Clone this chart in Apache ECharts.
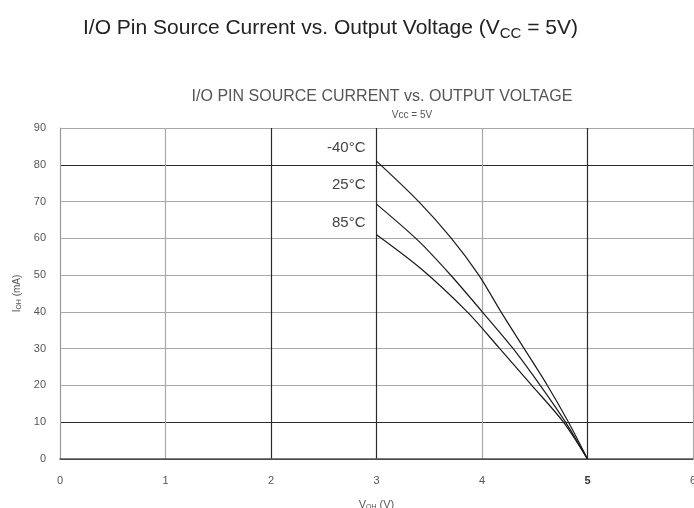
<!DOCTYPE html>
<html><head><meta charset="utf-8">
<script src="https://cdn.jsdelivr.net/npm/echarts@6/dist/echarts.min.js"></script>
<style>html,body{margin:0;padding:0;background:#fff;overflow:hidden}#c{width:694px;height:508px}</style>
</head><body><div id="c"></div>
<script>
// Data
const vM40 = [3.0, 3.40, 3.71, 3.97, 4.18, 4.40, 4.62, 4.82, 5.0];
const iM40 = [81.0, 70.0, 60.0, 50.0, 40.0, 30.0, 20.0, 10.0, 0];
const v25 = [3.0, 3.39, 3.70, 4.0, 4.29, 4.55, 4.79, 5.0];
const i25 = [69.3, 59.5, 50.1, 40.1, 30.2, 20.1, 10.1, 0];
const v85 = [3.0, 3.42, 3.86, 4.16, 4.47, 4.77, 5.0];
const i85 = [61.0, 51.8, 40.0, 30.3, 20.1, 10.1, 0];
const seriesNames = ['-40°C', '25°C', '85°C'];
const labelAnchors = [[3, 84.5], [3, 74.5], [3, 64.2]];
const xTicks = ['0', '1', '2', '3', '4', '5', '6'];

const pairs = (xs, ys) => xs.map((x, i) => [x, ys[i]]);
const allSeries = [[vM40, iM40], [v25, i25], [v85, i85]];

const chart = echarts.init(document.getElementById('c'), null, {renderer: 'canvas'});
const DARK = '#2a2a2a', GRAY = '#a8a8a8';
chart.setOption({
  animation: false,
  backgroundColor: '#fff',
  title: [
    {text: 'I/O Pin Source Current vs. Output Voltage (V{s|CC} = 5V)', left: 78, top: 11,
     textStyle: {fontFamily: 'Liberation Sans', fontSize: 21, fontWeight: 'normal', color: '#222',
       rich: {s: {fontFamily: 'Liberation Sans', fontSize: 15, color: '#222', verticalAlign: 'bottom', padding: [10, 0, 0, 0]}}}},
    {text: 'I/O PIN SOURCE CURRENT vs. OUTPUT VOLTAGE', left: 377, textAlign: 'center', top: 84,
     textStyle: {fontFamily: 'Liberation Sans', fontSize: 16, fontWeight: 'normal', color: '#555'}},
    {text: 'Vcc = 5V', left: 407, textAlign: 'center', top: 105,
     textStyle: {fontFamily: 'Liberation Sans', fontSize: 10, fontWeight: 'normal', color: '#555'}}
  ],
  grid: {left: 60, right: 1, top: 128, bottom: 49, containLabel: false, outerBoundsMode: 'none'},
  xAxis: {
    type: 'value', min: 0, max: 6, interval: 1,
    name: 'V{s|OH} (V)', nameLocation: 'middle', nameGap: 40,
    nameTextStyle: {fontFamily: 'Liberation Sans', fontSize: 11, color: '#555',
      rich: {s: {fontSize: 7, color: '#555', verticalAlign: 'bottom', padding: [5, 0, 0, 0]}}},
    axisLine: {show: true, lineStyle: {color: '#555', width: 1.5}},
    axisTick: {show: false},
    axisLabel: {margin: 16, fontFamily: 'Liberation Sans', fontSize: 11, color: '#555',
      formatter: (v) => { const s = xTicks[Math.round(v)]; return v === 5 ? '{b|' + s + '}' : s; },
      rich: {b: {fontWeight: 'bold', fontSize: 11, color: '#333', fontFamily: 'Liberation Sans'}}},
    splitLine: {show: true, lineStyle: {color: [GRAY, GRAY, DARK, DARK, GRAY, DARK, GRAY], width: 1.2}}
  },
  yAxis: {
    type: 'value', min: 0, max: 90, interval: 10,
    name: 'I{s|OH} (mA)', nameLocation: 'middle', nameGap: 36, nameRotate: 90,
    nameTextStyle: {fontFamily: 'Liberation Sans', fontSize: 10, color: '#555',
      rich: {s: {fontSize: 7, color: '#555', verticalAlign: 'bottom', padding: [4, 0, 0, 0]}}},
    axisLine: {show: true, lineStyle: {color: '#999', width: 1}},
    axisTick: {show: false},
    axisLabel: {margin: 14, fontFamily: 'Liberation Sans', fontSize: 11, color: '#555'},
    splitLine: {show: true, lineStyle: {color: [DARK, DARK, GRAY, GRAY, GRAY, GRAY, GRAY, GRAY, DARK, GRAY], width: 1.2}}
  },
  series: allSeries.map((s, k) => ({
    type: 'line', name: seriesNames[k], data: pairs(s[0], s[1]),
    smooth: 0.3, showSymbol: false, symbol: 'none',
    lineStyle: {color: '#1a1a1a', width: 1.2},
    markPoint: {
      symbol: 'circle', symbolSize: 0,
      data: [{coord: labelAnchors[k], value: seriesNames[k]}],
      label: {show: true, position: 'left', distance: 11, formatter: seriesNames[k],
        fontFamily: 'Liberation Sans', fontSize: 15, color: '#444'}
    }
  }))
});
</script></body></html>
